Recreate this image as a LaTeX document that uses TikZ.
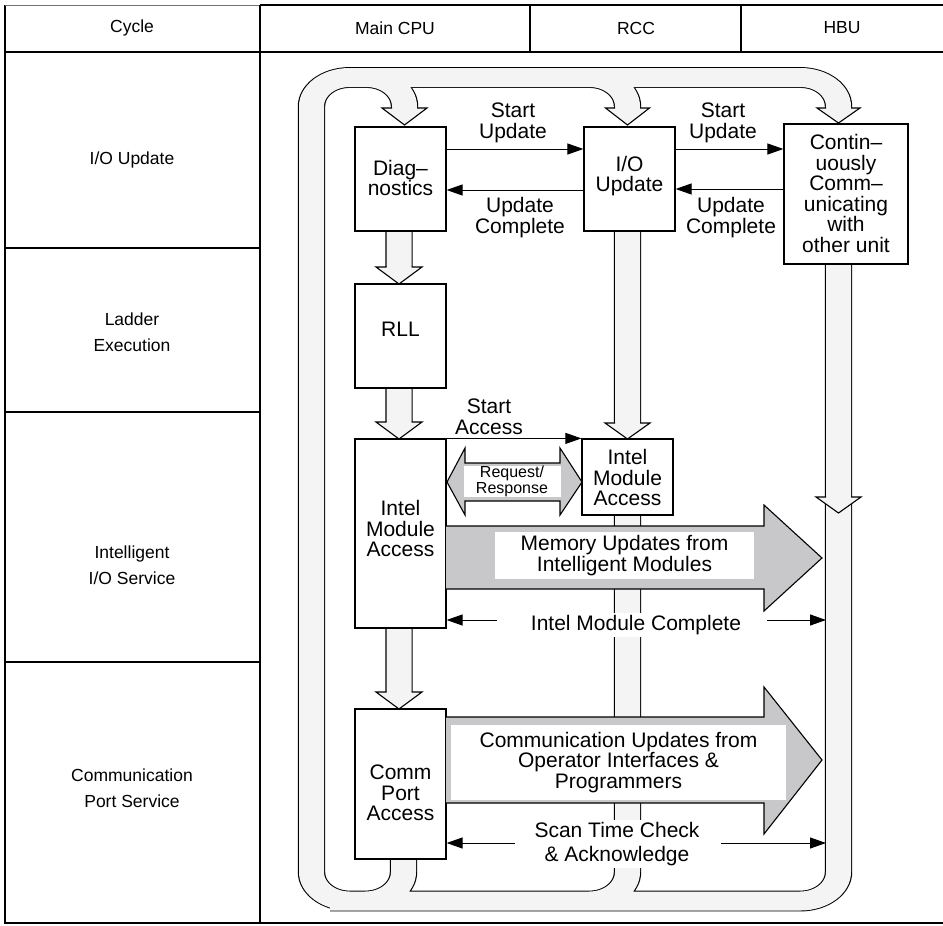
\documentclass[tikz,border=0pt]{standalone}
\usepackage{fontspec}
\setmainfont{Liberation Sans}
\usetikzlibrary{arrows.meta,calc}
\definecolor{bandgray}{HTML}{F4F4F4}
\definecolor{arrgray}{HTML}{C8C8CA}
\begin{document}
\begin{tikzpicture}[x=1pt,y=-1pt,
  box/.style={draw, line width=1.2pt, fill=white, inner sep=0pt},
  boxtxt/.style={align=center, font=\fontsize{21}{20.5}\selectfont, inner sep=0pt},
  lbl/.style={align=center, font=\fontsize{21}{20.5}\selectfont, inner sep=0pt},
  hdr/.style={align=center, font=\fontsize{17.5}{26}\selectfont, inner sep=0pt},
  arr/.style={line width=1pt, -{Triangle[length=16pt,width=11pt]}},
  tline/.style={line width=1.2pt},
  head/.style={fill=bandgray, draw=black, line width=1.1pt},
  bigarrow/.style={fill=arrgray, draw=black, line width=1.1pt},
]
\useasboundingbox (0,0) rectangle (943,926);

% ---------- table ----------
\draw[tline] (5,5) -- (5,923) -- (943,923);
\draw[line width=1pt, draw=black!55] (5,5) -- (260,5);
\draw[line width=2.4pt] (260,5) -- (943,5);
\draw[tline] (5,52) -- (943,52);
\draw[tline] (260,5) -- (260,923);
\draw[tline] (530,5) -- (530,52);
\draw[tline] (741,5) -- (741,52);
\foreach \yy in {248,412,662} \draw[tline] (5,\yy) -- (260,\yy);

\node[hdr] (hcyc) at (132,28) {Cycle};
\node[hdr] (hcpu) at (395,28) {Main CPU};
\node[hdr] (hrcc) at (636,28) {RCC};
\node[hdr] (hhbu) at (842,28) {HBU};
\node[hdr] (rio)  at (132,160) {I/O Update};
\node[hdr] (rlad) at (132,332.5) {Ladder\\Execution};
\node[hdr] (rint) at (132,565.5) {Intelligent\\I/O Service};
\node[hdr] (rcom) at (132,788.5) {Communication\\Port Service};

% ---------- bands ----------
\begin{scope}[transform canvas={yscale=0.76}, y={(0pt,-1.315789pt)}]
\draw[rounded corners=38pt, line width=25pt, draw=bandgray,
      preaction={draw=black, line width=27.4pt}]
  (838.5,498) -- (838.5,901) -- (311.5,901) -- (311.5,77.5) -- (838.5,77.5) -- (838.5,108)
  (355,77.5) -- (404.5,77.5) -- (404.5,108)
  (560,77.5) -- (627.5,77.5) -- (627.5,108)
  (403.5,858) -- (403.5,901) -- (330,901)
  (627.5,514) -- (627.5,901) -- (560,901)
  (627.5,230) -- (627.5,423)
  (838.5,263) -- (838.5,497)
  (399,230) -- (399,267)
  (399,387) -- (399,422)
  (399,627) -- (399,692);
\end{scope}

% ---------- band arrow heads ----------
\filldraw[head] (392,108) -- (382,108) -- (404.5,125) -- (427,108) -- (417,108);
\filldraw[head] (615,108) -- (605.5,108) -- (627.5,125) -- (649.5,108) -- (640,108);
\filldraw[head] (826,108) -- (817,108) -- (838.5,123) -- (860,108) -- (851,108);
\filldraw[head] (386.5,267) -- (376,267) -- (399,284) -- (422,267) -- (411.5,267);
\filldraw[head] (386.5,422) -- (376,422) -- (399,439) -- (422,422) -- (411.5,422);
\filldraw[head] (386.5,692) -- (376,692) -- (399,709) -- (422,692) -- (411.5,692);
\filldraw[head] (615,423) -- (605,423) -- (627.5,439) -- (650,423) -- (640,423);
\filldraw[head] (826,497) -- (816,497) -- (838.5,513) -- (861,497) -- (851,497);

% ---------- boxes ----------
\node[box, minimum width=91, minimum height=104] (diag) at (400.5,179) {};
\node[box, minimum width=91, minimum height=104] (rll) at (400.5,336) {};
\node[box, minimum width=91, minimum height=189] (cpuint) at (400.5,533.5) {};
\node[box, minimum width=91, minimum height=150] (comm) at (400.5,784) {};
\node[box, minimum width=91, minimum height=104] (io) at (629.5,179) {};
\node[box, minimum width=91, minimum height=76] (rccint) at (627.5,477) {};
\node[box, minimum width=124, minimum height=140] (hbu) at (846,194) {};

\node[boxtxt] (tdiag) at (400.5,178) {Diag\textendash\\nostics};
\node[boxtxt] (tio) at (629.5,176) {I/O\\Update};
\node[boxtxt] (thbu) at (846,193.5) {Contin\textendash\\uously\\Comm\textendash\\unicating\\with\\other unit};
\node[boxtxt] (trll) at (400.5,329) {RLL};
\node[boxtxt] (tcpuint) at (400.5,528.5) {Intel\\Module\\Access};
\node[boxtxt] (trccint) at (627.5,477.5) {Intel\\Module\\Access};
\node[boxtxt] (tcomm) at (400.5,793) {Comm\\Port\\Access};

% ---------- handshake arrows ----------
\draw[arr] ([yshift=30pt]diag.east) -- ([yshift=30pt]io.west);
\draw[arr] ([yshift=-11pt]io.west) -- ([yshift=-11pt]diag.east);
\draw[arr] ([yshift=30pt]io.east) coordinate (t1) -- (t1 -| hbu.west);
\draw[arr] ([yshift=-10pt]io.east -| hbu.west) coordinate (t2) -- (t2 -| io.east);
\draw[arr] (cpuint.north east) -- (cpuint.north east -| rccint.west);

\node[lbl] (su1) at (513,123) {Start\\Update};
\node[lbl] (uc1) at (520,217.5) {Update\\Complete};
\node[lbl] (su2) at (723,123) {Start\\Update};
\node[lbl] (uc2) at (731,217.5) {Update\\Complete};
\node[lbl, font=\fontsize{21}{20.5}\selectfont] (sa) at (489,417) {Start\\Access};

% ---------- request / response ----------
\filldraw[bigarrow] (447,482) -- (465,448) -- (465,463) -- (560,463) -- (560,448) -- (582,482)
  -- (560,515) -- (560,501) -- (465,501) -- (465,515) -- cycle;
\node[fill=white, minimum width=97, minimum height=31, inner sep=0pt, align=center,
      font=\fontsize{16}{13}\selectfont] (rr) at (512,481.5) {Request/\\Response};

% ---------- memory updates ----------
\filldraw[bigarrow] (446,526) -- (764,526) -- (764,505) -- (822,558) -- (764,611) -- (764,589) -- (446,589);
\node[lbl, fill=white, minimum width=259, minimum height=47] (mem) at (624.5,555.5)
  {Memory Updates from\\Intelligent Modules};

% ---------- communication updates ----------
\filldraw[bigarrow] (446,717) -- (764,717) -- (764,687) -- (822,760) -- (764,834) -- (764,803) -- (446,803);
\node[lbl, fill=white, minimum width=335, minimum height=75] (cup) at (618.5,762.5)
  {Communication Updates from\\Operator Interfaces \&\\Programmers};

% ---------- completion arrows ----------
\coordinate (hbuedge) at (826,0);
\node[lbl, fill=white, inner sep=2pt] (imc) at (636,625) {Intel Module Complete};
\coordinate (imcL) at (497,620);
\coordinate (imcR) at (767,620);
\draw[arr] (imcL) -- (imcL -| cpuint.east);
\draw[arr] (imcR) -- (imcR -| hbuedge);

\node[lbl, fill=white, inner sep=2pt, font=\fontsize{21}{24}\selectfont] (stc) at (617,844) {Scan Time Check\\\& Acknowledge};
\coordinate (stcL) at (515,843);
\coordinate (stcR) at (721,843);
\draw[arr] (stcL) -- (stcL -| comm.east);
\draw[arr] (stcR) -- (stcR -| hbuedge);
\end{tikzpicture}
\end{document}
